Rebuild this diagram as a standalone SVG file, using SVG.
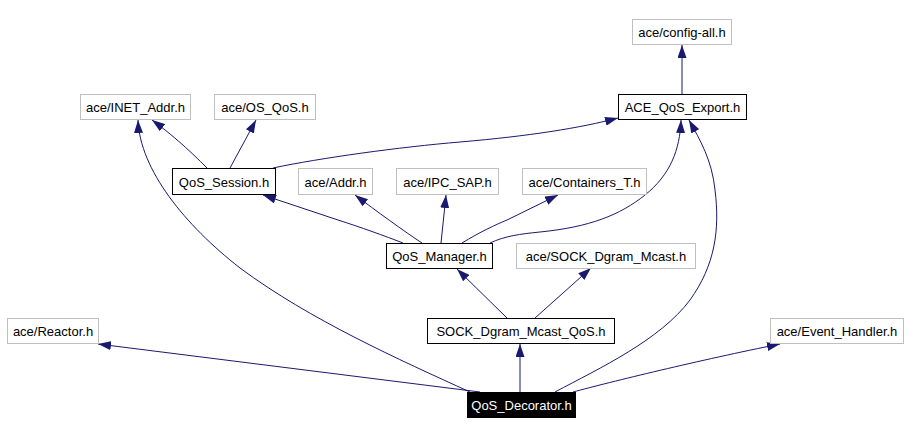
<svg xmlns="http://www.w3.org/2000/svg" width="910" height="435" viewBox="0 0 910 435">
<style>
.n rect{fill:#fff;stroke:#bfbfbf;stroke-width:1}
.n.b rect{stroke:#000}
.n.d rect{fill:#000;stroke:#000}
.n text{font-family:"Liberation Sans",Arial,sans-serif;font-size:13px;fill:#000;text-anchor:middle}
.n.d text{fill:#fff}
.e path{fill:none;stroke:#191970;stroke-width:1;marker-end:url(#ah)}
</style>
<defs>
<marker id="ah" viewBox="0 0 13 9" refX="13" refY="4.5" markerWidth="13" markerHeight="9" markerUnits="userSpaceOnUse" orient="auto">
<path d="M0,0 L13,4.5 L0,9 z" fill="#191970"/>
</marker>
</defs>
<rect width="910" height="435" fill="#fff"/>
<g id="edges" class="e">
<path d="M682,94 L682,45"/>
<path d="M207,168 C197,158 178,139 152,120"/>
<path d="M230,168 L256,120"/>
<path d="M273,168 C320,158 400,147 460,142 C530,136 580,128 618,118"/>
<path d="M403,243 C385,236 360,227 338,220 L263,195"/>
<path d="M422,243 C405,232 375,210 355,195"/>
<path d="M441,243 L446,195"/>
<path d="M462,243 C480,232 495,225 507,220 L558,195"/>
<path d="M490,243 C505,236 520,234 540,232 C590,227 620,215 645,195 C670,175 680,150 681,120"/>
<path d="M507,318 L457,269"/>
<path d="M535,318 L591,268"/>
<path d="M520,392 L520,344"/>
<path d="M480,392 L98,344"/>
<path d="M470,392 C400,360 310,320 240,268 C185,225 140,170 138,120"/>
<path d="M555,392 C600,368 660,340 690,300 C715,265 720,230 715,190 C712,160 700,140 689,120"/>
<path d="M573,392 C610,382 700,360 780,344"/>
</g>
<g id="config_all" class="n"><rect x="632.5" y="19.5" width="99" height="25"/><text x="682" y="37">ace/config-all.h</text></g>
<g id="inet_addr" class="n"><rect x="80.5" y="94.5" width="110" height="25"/><text x="135.5" y="112">ace/INET_Addr.h</text></g>
<g id="os_qos" class="n"><rect x="214.5" y="94.5" width="101" height="25"/><text x="265" y="112">ace/OS_QoS.h</text></g>
<g id="ace_qos_export" class="n b"><rect x="618.5" y="94.5" width="128" height="25"/><text x="682.5" y="112">ACE_QoS_Export.h</text></g>
<g id="qos_session" class="n b"><rect x="172.5" y="168.5" width="103" height="26"/><text x="224" y="186.5">QoS_Session.h</text></g>
<g id="addr" class="n"><rect x="298.5" y="168.5" width="74" height="26"/><text x="335.5" y="186.5">ace/Addr.h</text></g>
<g id="ipc_sap" class="n"><rect x="396.5" y="168.5" width="102" height="26"/><text x="447.5" y="186.5">ace/IPC_SAP.h</text></g>
<g id="containers_t" class="n"><rect x="522.5" y="168.5" width="124" height="26"/><text x="584.5" y="186.5">ace/Containers_T.h</text></g>
<g id="qos_manager" class="n b"><rect x="386.5" y="243.5" width="106" height="25"/><text x="439.5" y="261">QoS_Manager.h</text></g>
<g id="sock_dgram_mcast" class="n"><rect x="516.5" y="243.5" width="179" height="25"/><text x="606" y="261">ace/SOCK_Dgram_Mcast.h</text></g>
<g id="reactor" class="n"><rect x="7.5" y="318.5" width="91" height="25"/><text x="53" y="336">ace/Reactor.h</text></g>
<g id="sock_dgram_mcast_qos" class="n b"><rect x="427.5" y="318.5" width="187" height="25"/><text x="521" y="336">SOCK_Dgram_Mcast_QoS.h</text></g>
<g id="event_handler" class="n"><rect x="770.5" y="318.5" width="133" height="25"/><text x="837" y="336">ace/Event_Handler.h</text></g>
<g id="qos_decorator" class="n d"><rect x="467.5" y="392.5" width="108" height="25"/><text x="521.5" y="410">QoS_Decorator.h</text></g>
</svg>
